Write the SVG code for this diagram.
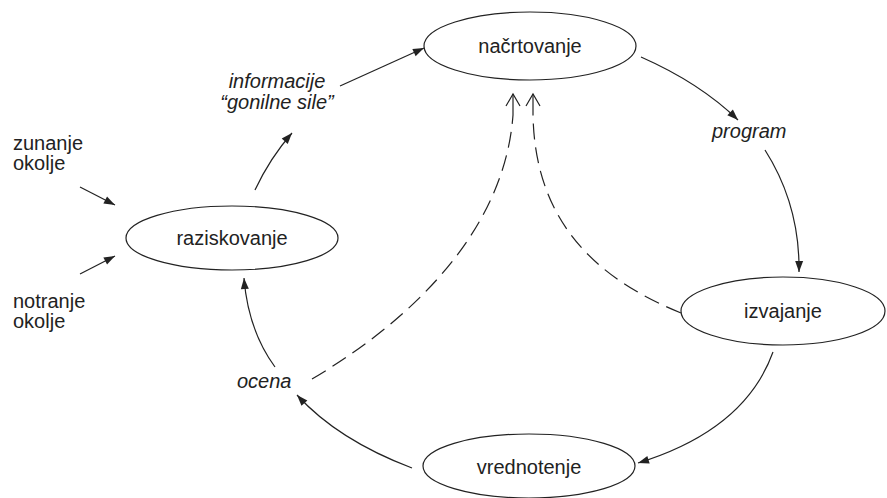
<svg xmlns="http://www.w3.org/2000/svg" width="887" height="498" viewBox="0 0 887 498">
<style>
.node ellipse{fill:#fff;stroke:#222;stroke-width:1.2}
text{font-family:"Liberation Sans",Arial,sans-serif;font-size:20px;fill:#222}
.it{font-style:italic;font-size:20px}
.c{text-anchor:middle}
.con path{fill:none;stroke:#222;stroke-width:1.2}
.con .d{stroke-dasharray:16 8}
</style>
<defs>
<marker id="a" markerUnits="userSpaceOnUse" markerWidth="12" markerHeight="10" refX="11" refY="4" orient="auto" overflow="visible">
<path d="M0,0 L11,4 L0,8 z" fill="#222"/>
</marker>
<marker id="o" markerUnits="userSpaceOnUse" markerWidth="14" markerHeight="16" refX="12" refY="7" orient="auto" overflow="visible">
<path d="M0,0 L12,7 L0,14" fill="none" stroke="#222" stroke-width="1.2"/>
</marker>
</defs>
<g id="nacrtovanje" class="node"><ellipse cx="530" cy="46" rx="106" ry="34"/><text class="c" x="530" y="53">načrtovanje</text></g>
<g id="raziskovanje" class="node"><ellipse cx="232" cy="238" rx="106" ry="32"/><text class="c" x="232" y="245">raziskovanje</text></g>
<g id="izvajanje" class="node"><ellipse cx="783" cy="311" rx="102" ry="34"/><text class="c" x="783" y="318">izvajanje</text></g>
<g id="vrednotenje" class="node"><ellipse cx="529" cy="466" rx="106" ry="32"/><text class="c" x="529" y="474">vrednotenje</text></g>
<g id="labels">
<text class="it c" x="277" y="88">informacije</text>
<text class="it c" x="277" y="109">“gonilne sile”</text>
<text x="13" y="150">zunanje</text>
<text x="13" y="170">okolje</text>
<text x="13" y="308">notranje</text>
<text x="13" y="328">okolje</text>
<text class="it" x="712" y="138">program</text>
<text class="it" x="237" y="388">ocena</text>
</g>
<g id="connectors" class="con">
<path d="M340,86 L424,48" marker-end="url(#a)"/>
<path d="M255,190 Q270,158 292,133" marker-end="url(#a)"/>
<path d="M80,187 L115,205" marker-end="url(#a)"/>
<path d="M80,274 L115,256" marker-end="url(#a)"/>
<path d="M641,57 Q700,83 738,120" marker-end="url(#a)"/>
<path d="M765,150 Q800,205 799,272" marker-end="url(#a)"/>
<path d="M773,352 Q745,430 638,463" marker-end="url(#a)"/>
<path d="M412,468 Q338,440 297,395" marker-end="url(#a)"/>
<path d="M275,367 Q248,330 244,278" marker-end="url(#a)"/>
<path class="d" d="M312,379 C420,315 505,225 513,115"/>
<path d="M513,115 L513,94" marker-end="url(#o)"/>
<path class="d" d="M681,313 C600,280 535,225 533,115"/>
<path d="M533,115 L533,94" marker-end="url(#o)"/>
</g>
</svg>
